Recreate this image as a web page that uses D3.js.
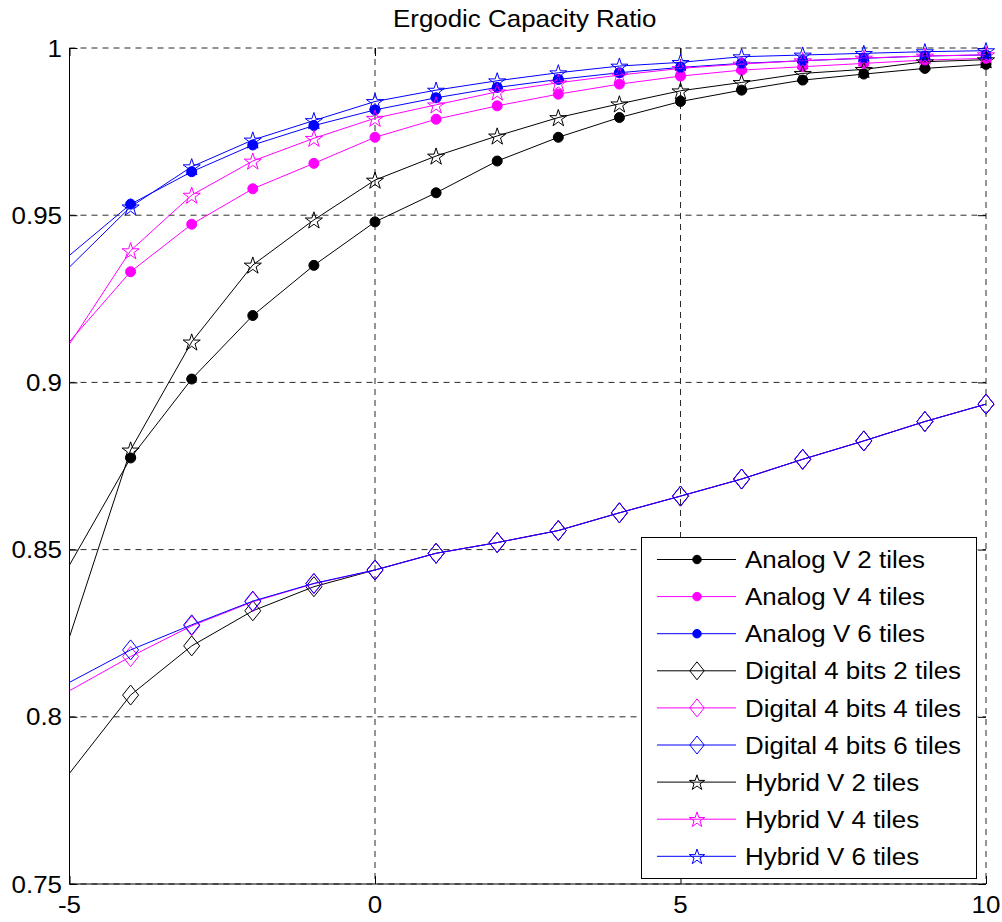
<!DOCTYPE html>
<html>
<head>
<meta charset="utf-8">
<script src="https://cdn.jsdelivr.net/npm/d3@7"></script>
<style>
  html, body { margin: 0; padding: 0; background: #fff; }
  text { font-family: "Liberation Sans", Arial, Helvetica, sans-serif; fill: #000; }
</style>
</head>
<body>
<svg id="chart" width="1002" height="922"></svg>
<script>
// ---- data ----
const snr = [-5, -4, -3, -2, -1, 0, 1, 2, 3, 4, 5, 6, 7, 8, 9, 10];
const xTicks = [-5, 0, 5, 10];
const yTicks = [0.75, 0.8, 0.85, 0.9, 0.95, 1];
const yTickLabels = ["0.75", "0.8", "0.85", "0.9", "0.95", "1"];
const titleText = "Ergodic Capacity Ratio";

const analog2  = [0.8454, 0.8774, 0.9010, 0.9200, 0.9350, 0.9480, 0.9567, 0.9662, 0.9733, 0.9792, 0.9840, 0.9874, 0.9904, 0.9922, 0.9939, 0.9951];
const analog4  = [0.9122, 0.9331, 0.9473, 0.9579, 0.9655, 0.9733, 0.9787, 0.9827, 0.9862, 0.9892, 0.9916, 0.9934, 0.9944, 0.9954, 0.9964, 0.9969];
const analog6  = [0.9380, 0.9533, 0.9630, 0.9710, 0.9768, 0.9815, 0.9851, 0.9882, 0.9906, 0.9926, 0.9942, 0.9954, 0.9962, 0.9969, 0.9976, 0.9979];
const digital2 = [0.7831, 0.8065, 0.8212, 0.8317, 0.8389, 0.8439, 0.8489, 0.8521, 0.8557, 0.8610, 0.8660, 0.8711, 0.8770, 0.8825, 0.8883, 0.8935];
const digital4 = [0.8078, 0.8180, 0.8272, 0.8344, 0.8398, 0.8439, 0.8489, 0.8521, 0.8557, 0.8610, 0.8660, 0.8711, 0.8770, 0.8825, 0.8883, 0.8935];
const digital6 = [0.8103, 0.8200, 0.8275, 0.8346, 0.8399, 0.8439, 0.8489, 0.8521, 0.8557, 0.8610, 0.8660, 0.8711, 0.8770, 0.8825, 0.8883, 0.8935];
const hybrid2  = [0.8239, 0.8798, 0.9121, 0.9351, 0.9486, 0.9605, 0.9677, 0.9737, 0.9792, 0.9833, 0.9872, 0.9897, 0.9924, 0.9936, 0.9959, 0.9965];
const hybrid4  = [0.9115, 0.9394, 0.9560, 0.9662, 0.9730, 0.9790, 0.9830, 0.9869, 0.9896, 0.9919, 0.9939, 0.9952, 0.9962, 0.9970, 0.9976, 0.9980];
const hybrid6  = [0.9345, 0.9525, 0.9645, 0.9725, 0.9783, 0.9840, 0.9874, 0.9902, 0.9926, 0.9946, 0.9957, 0.9974, 0.9979, 0.9984, 0.9989, 0.9992];

const seriesNames   = ["Analog V 2 tiles", "Analog V 4 tiles", "Analog V 6 tiles",
                       "Digital 4 bits 2 tiles", "Digital 4 bits 4 tiles", "Digital 4 bits 6 tiles",
                       "Hybrid V 2 tiles", "Hybrid V 4 tiles", "Hybrid V 6 tiles"];
const seriesValues  = [analog2, analog4, analog6, digital2, digital4, digital6, hybrid2, hybrid4, hybrid6];
const seriesColors  = ["#000000", "#ff00ff", "#0000ff", "#000000", "#ff00ff", "#0000ff", "#000000", "#ff00ff", "#0000ff"];
const seriesMarkers = ["dot", "dot", "dot", "diamond", "diamond", "diamond", "star", "star", "star"];

// ---- layout ----
const svg = d3.select("#chart");
const L = 69.5, R = 986, T = 48, B = 884;
const x = d3.scaleLinear().domain([-5, 10]).range([L, R]);
const y = d3.scaleLinear().domain([0.75, 1]).range([B, T]);
const FS = 24, SX = 1.08;

svg.append("rect").attr("width", 1002).attr("height", 922).attr("fill", "#fff");

svg.append("defs").append("clipPath").attr("id", "plotclip")
  .append("rect").attr("x", L).attr("y", T).attr("width", R - L).attr("height", B - T);

// grid
const grid = svg.append("g").attr("stroke", "#2a2a2a").attr("stroke-width", 1).attr("stroke-dasharray", "6,5").attr("fill", "none");
xTicks.forEach(v => grid.append("line").attr("x1", x(v)).attr("x2", x(v)).attr("y1", T).attr("y2", B));
yTicks.forEach(v => grid.append("line").attr("x1", L).attr("x2", R).attr("y1", y(v)).attr("y2", y(v)));

// axes lines (left & bottom solid)
svg.append("line").attr("x1", L).attr("x2", L).attr("y1", T).attr("y2", B).attr("stroke", "#000");
svg.append("line").attr("x1", L).attr("x2", R).attr("y1", B).attr("y2", B).attr("stroke", "#000");

// ticks via d3 axes (inward)
const axL = d3.axisLeft(y).tickValues(yTicks).tickSizeInner(-8).tickSizeOuter(0).tickFormat("");
const axR = d3.axisRight(y).tickValues(yTicks).tickSizeInner(-8).tickSizeOuter(0).tickFormat("");
const axB = d3.axisBottom(x).tickValues(xTicks).tickSizeInner(-8).tickSizeOuter(0).tickFormat("");
const axT = d3.axisTop(x).tickValues(xTicks).tickSizeInner(-8).tickSizeOuter(0).tickFormat("");
[[axL, `translate(${L},0)`], [axR, `translate(${R},0)`], [axB, `translate(0,${B})`], [axT, `translate(0,${T})`]]
  .forEach(([ax, tr]) => {
    const g = svg.append("g").attr("transform", tr).call(ax);
    g.select(".domain").remove();
    g.selectAll("line").attr("stroke", "#000");
  });

// tick labels
yTicks.forEach((v, i) => {
  svg.append("text").attr("transform", `translate(62,${y(v)}) scale(${SX},1)`)
    .attr("text-anchor", "end").attr("dominant-baseline", "central")
    .attr("font-size", FS).text(yTickLabels[i]);
});
xTicks.forEach(v => {
  svg.append("text").attr("transform", `translate(${x(v)},913) scale(${SX},1)`)
    .attr("text-anchor", "middle").attr("font-size", FS).text(String(v));
});

// title
svg.append("text").attr("transform", `translate(${(L + R) / 2 - 3},27) scale(${SX},1)`)
  .attr("text-anchor", "middle").attr("font-size", FS).text(titleText);

// marker drawing
function starPath(r) {
  const ri = r * 0.382;
  const pts = [];
  for (let k = 0; k < 10; k++) {
    const a = -Math.PI / 2 + k * Math.PI / 5;
    const rr = k % 2 === 0 ? r : ri;
    pts.push([rr * Math.cos(a), rr * Math.sin(a) + r * 0.1]);
  }
  return "M" + pts.map(p => p[0].toFixed(2) + "," + p[1].toFixed(2)).join("L") + "Z";
}
function drawMarker(g, type, cx, cy, color, scale) {
  scale = scale || 1;
  if (type === "dot") {
    g.append("circle").attr("cx", cx).attr("cy", cy).attr("r", 5 * scale)
      .attr("fill", color).attr("stroke", color).attr("stroke-width", 1);
  } else if (type === "diamond") {
    const hw = 8 * scale, hh = 10 * scale;
    g.append("path").attr("d", `M${cx},${cy - hh}L${cx + hw},${cy}L${cx},${cy + hh}L${cx - hw},${cy}Z`)
      .attr("fill", "none").attr("stroke", color).attr("stroke-width", 1);
  } else {
    g.append("path").attr("d", starPath(9 * scale)).attr("transform", `translate(${cx},${cy})`)
      .attr("fill", "none").attr("stroke", color).attr("stroke-width", 1);
  }
}

// series
const line = d3.line().x((d, i) => x(snr[i])).y(d => y(d));
seriesValues.forEach((vals, s) => {
  const g = svg.append("g");
  g.append("path").datum(vals).attr("d", line).attr("clip-path", "url(#plotclip)")
    .attr("fill", "none").attr("stroke", seriesColors[s]).attr("stroke-width", 1);
  vals.forEach((v, i) => {
    if (snr[i] > -5) drawMarker(g, seriesMarkers[s], x(snr[i]), y(v), seriesColors[s]);
  });
});

// legend
const lg = svg.append("g");
lg.append("rect").attr("x", 641.5).attr("y", 537.5).attr("width", 335).attr("height", 341)
  .attr("fill", "#fff").attr("stroke", "#000").attr("stroke-width", 1);
seriesNames.forEach((name, s) => {
  const ry = 559.5 + s * 37.1;
  lg.append("line").attr("x1", 657).attr("x2", 736).attr("y1", ry).attr("y2", ry)
    .attr("stroke", seriesColors[s]).attr("stroke-width", 1);
  drawMarker(lg, seriesMarkers[s], 697, ry, seriesColors[s], seriesMarkers[s] === "dot" ? 0.85 : 0.9);
  lg.append("text").attr("transform", `translate(745,${ry}) scale(${SX},1)`)
    .attr("dominant-baseline", "central").attr("font-size", FS).text(name);
});
</script>
</body>
</html>
